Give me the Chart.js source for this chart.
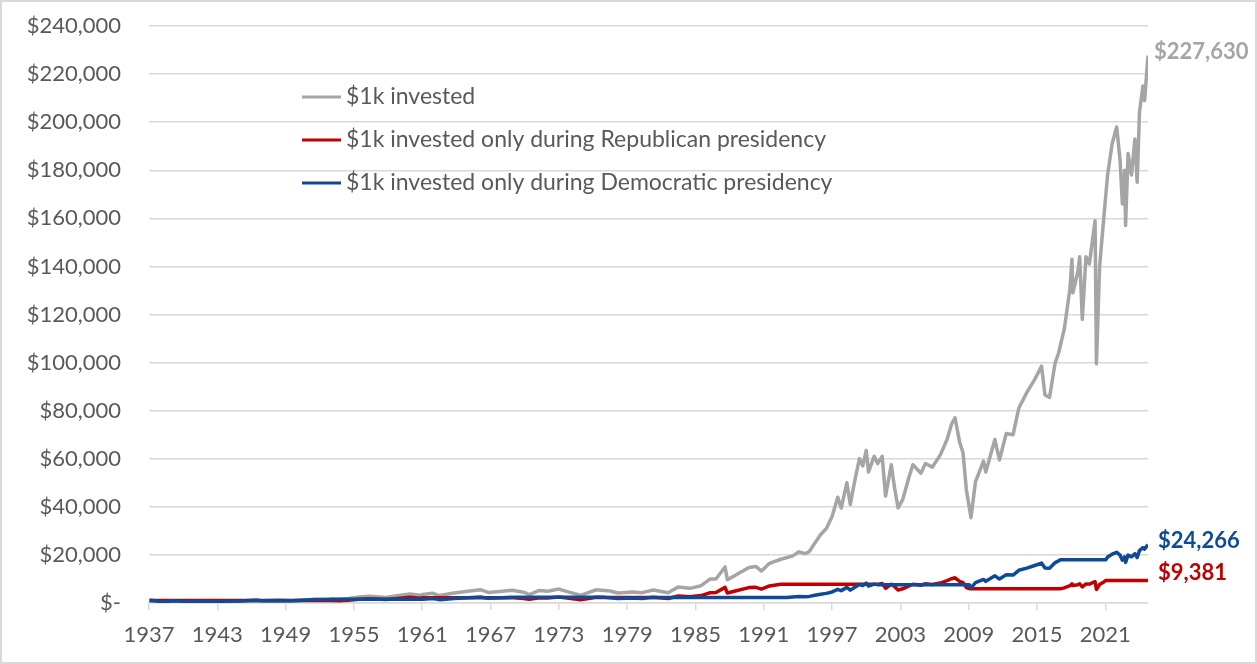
<!DOCTYPE html>
<html>
<head>
<meta charset="utf-8">
<title>$1k invested by presidency</title>
<script src="https://cdn.jsdelivr.net/npm/chart.js@4.4.1/dist/chart.umd.min.js"></script>
<style>
    html, body { margin: 0; padding: 0; background: #ffffff; }
    #wrap { width: 1257px; height: 664px; position: relative; }
</style>
</head>
<body>
<div id="wrap"><canvas id="chart" width="1257" height="664"></canvas></div>
<script>
// Tick labels on the x-axis (every 6 years)
const yearTicks = [1937, 1943, 1949, 1955, 1961, 1967, 1973, 1979, 1985, 1991, 1997, 2003, 2009, 2015, 2021]

const seriesLabels = [
    "$1k invested",
    "$1k invested only during Republican presidency",
    "$1k invested only during Democratic presidency"
]

// $1k invested the whole time (decimal years)
const allYears = [
    1937.05, 1937.2, 1937.6, 1937.9, 1938.3, 1938.9, 1939.7, 1940.4, 1941.5, 1942.3,
    1943.5, 1945.0, 1946.4, 1946.9, 1948.5, 1949.5, 1950.5, 1951.5, 1952.5, 1953.05,
    1953.7, 1954.5, 1955.5, 1956.3, 1957.8, 1958.8, 1959.9, 1960.8, 1961.05, 1961.9,
    1962.5, 1963.8, 1965.0, 1966.1, 1966.8, 1968.0, 1968.9, 1969.9, 1970.4, 1971.3,
    1972.0, 1973.0, 1973.9, 1974.9, 1976.3, 1977.5, 1978.2, 1979.5, 1980.3, 1981.3,
    1982.6, 1983.5, 1984.5, 1985.5, 1986.3, 1986.8, 1987.6, 1987.8, 1988.5, 1989.7,
    1990.3, 1990.8, 1991.5, 1992.5, 1993.5, 1994.1, 1994.6, 1995.0, 1995.5, 1996.0,
    1996.5, 1997.0, 1997.5, 1997.8, 1998.3, 1998.6, 1999.0, 1999.4, 1999.7, 2000.0,
    2000.2, 2000.7, 2001.0, 2001.4, 2001.7, 2002.2, 2002.5, 2002.8, 2003.2, 2003.8,
    2004.1, 2004.8, 2005.2, 2005.8, 2006.5, 2007.1, 2007.5, 2007.8, 2008.2, 2008.5,
    2008.8, 2009.2, 2009.6, 2010.3, 2010.5, 2011.3, 2011.7, 2012.3, 2012.9, 2013.4,
    2014.1, 2014.8, 2015.4, 2015.7, 2016.1, 2016.6, 2016.9, 2017.4, 2017.9, 2018.07,
    2018.15, 2018.6, 2018.75, 2018.98, 2019.3, 2019.6, 2020.1, 2020.22, 2020.5, 2020.9,
    2021.2, 2021.6, 2022.0, 2022.3, 2022.5, 2022.7, 2022.78, 2023.0, 2023.3, 2023.6,
    2023.8, 2024.0, 2024.3, 2024.45, 2024.75
]
const allValues = [
    1000, 1060, 950, 650, 550, 830, 830, 650, 700, 520,
    760, 850, 1130, 900, 1000, 890, 1150, 1420, 1500, 1600,
    1420, 1850, 2500, 2830, 2310, 3000, 3750, 3200, 3550, 4050,
    3100, 4150, 4900, 5550, 4400, 4850, 5300, 4500, 3500, 5200,
    4900, 5800, 4500, 3200, 5500, 5000, 4150, 4600, 4300, 5400,
    4300, 6700, 6100, 7200, 10000, 10000, 15000, 9700, 11500, 14800,
    15200, 13300, 16500, 18200, 19500, 21300, 20500, 21400, 25000, 28500,
    31000, 36000, 44000, 39500, 50000, 41000, 51000, 60000, 57000, 63500,
    54500, 61000, 58000, 61000, 44500, 57500, 47500, 39500, 43000, 53000,
    57500, 54000, 58000, 56500, 61500, 68000, 74500, 77000, 67000, 62500,
    47000, 35500, 50500, 59000, 54500, 68000, 59500, 70500, 70000, 81000,
    87500, 93000, 98500, 86500, 85500, 100000, 104000, 114000, 131000, 143000,
    129000, 138000, 144000, 118000, 144000, 141000, 159000, 99500, 140000, 162000,
    178000, 191000, 198000, 184000, 166000, 180000, 157000, 187000, 178000, 193000,
    175000, 204000, 215000, 209000, 227630
]

// $1k invested only while a Republican was president (flat otherwise)
const repYears = [
    1937.05, 1953.05, 1953.7, 1954.5, 1955.5, 1956.3, 1957.8, 1958.8, 1959.9, 1960.8,
    1961.05, 1969.05, 1969.9, 1970.4, 1971.3, 1972.0, 1973.0, 1973.9, 1974.9, 1976.3,
    1977.05, 1981.05, 1981.3, 1982.6, 1983.5, 1984.5, 1985.5, 1986.3, 1986.8, 1987.6,
    1987.8, 1988.5, 1989.7, 1990.3, 1990.8, 1991.5, 1992.5, 1993.05, 2001.05, 2001.4,
    2001.7, 2002.2, 2002.5, 2002.8, 2003.2, 2003.8, 2004.1, 2004.8, 2005.2, 2005.8,
    2006.5, 2007.1, 2007.5, 2007.8, 2008.2, 2008.5, 2008.8, 2009.05, 2017.05, 2017.4,
    2017.9, 2018.07, 2018.15, 2018.6, 2018.75, 2018.98, 2019.3, 2019.6, 2020.1, 2020.22,
    2020.5, 2020.9, 2021.05, 2024.75
]
const repValues = [
    1000, 1000, 890, 1150, 1560, 1760, 1440, 1880, 2350, 2000,
    2220, 2220, 1900, 1500, 2150, 2100, 2480, 1950, 1370, 2380,
    2270, 2270, 2370, 1870, 2900, 2640, 3100, 4300, 4380, 6500,
    4150, 5000, 6400, 6500, 5800, 7100, 7800, 7850, 7850, 8100,
    6100, 7800, 6800, 5400, 5900, 7200, 7800, 7400, 8000, 7700,
    8300, 9300, 10100, 10500, 9000, 8500, 6400, 5950, 5950, 6300,
    7200, 7950, 7250, 7600, 8000, 6650, 7950, 7850, 8850, 5600,
    7700, 8850, 9381, 9381
]

// $1k invested only while a Democrat was president (flat otherwise)
const demYears = [
    1937.05, 1937.2, 1937.6, 1937.9, 1938.3, 1938.9, 1939.7, 1940.4, 1941.5, 1942.3,
    1943.5, 1945.0, 1946.4, 1946.9, 1948.5, 1949.5, 1950.5, 1951.5, 1952.5, 1953.05,
    1961.05, 1961.9, 1962.5, 1963.8, 1965.0, 1966.1, 1966.8, 1968.0, 1968.9, 1969.05,
    1977.05, 1977.5, 1978.2, 1979.5, 1980.3, 1981.05, 1993.05, 1993.5, 1994.1, 1994.6,
    1995.0, 1995.5, 1996.0, 1996.5, 1997.0, 1997.5, 1997.8, 1998.3, 1998.6, 1999.0,
    1999.4, 1999.7, 2000.0, 2000.2, 2000.7, 2001.05, 2009.05, 2009.18, 2009.6, 2010.3,
    2010.5, 2011.3, 2011.7, 2012.3, 2012.9, 2013.4, 2014.1, 2014.8, 2015.4, 2015.7,
    2016.1, 2016.6, 2016.9, 2017.05, 2021.05, 2021.2, 2021.6, 2022.0, 2022.3, 2022.5,
    2022.7, 2022.78, 2023.0, 2023.3, 2023.6, 2023.8, 2024.0, 2024.3, 2024.45, 2024.75
]
const demValues = [
    1000, 1060, 950, 650, 550, 830, 830, 650, 700, 520,
    760, 850, 1130, 900, 1000, 890, 1150, 1420, 1500, 1600,
    1600, 1830, 1400, 1880, 2200, 2500, 1980, 2200, 2400, 2340,
    2340, 2200, 1840, 2050, 1900, 2320, 2320, 2500, 2750, 2650,
    2750, 3200, 3650, 4000, 4600, 5700, 5150, 6500, 5350, 6550,
    7700, 7300, 8250, 7050, 7850, 7550, 7550, 6200, 8500, 9800,
    9000, 11300, 10000, 11700, 11600, 13600, 14500, 15600, 16600, 14600,
    14500, 16800, 17500, 18000, 18000, 19100, 20300, 21100, 19900, 17800,
    19200, 16900, 19900, 19200, 20500, 18900, 21800, 23000, 22400, 24266
]

const textColor = "#595959"
const gridColor = "#d9d9d9"
const fontFamily = "Lato, 'Open Sans', sans-serif"

/**
 * Pairs up an array of years with an array of values for a linear x-axis
 */
function toPoints(years, values) {
    return years.map((year, i) => ({ x: year, y: values[i] }))
}

/**
 * Formats a dollar amount the way the spreadsheet does ($- for zero)
 */
function dollars(value) {
    if (value === 0) return "$-"
    return "$" + Math.round(value).toLocaleString("en-US")
}

// Light grey frame round the whole picture, white background
const framePlugin = {
    id: "frame",
    beforeDraw(chart) {
        const ctx = chart.ctx
        ctx.save()
        ctx.fillStyle = "#ffffff"
        ctx.fillRect(0, 0, chart.width, chart.height)
        ctx.strokeStyle = gridColor
        ctx.lineWidth = 2
        ctx.strokeRect(1, 1, chart.width - 2, chart.height - 2)
        ctx.restore()
    }
}

// Legend drawn inside the plot area, one row per dataset
const insideLegendPlugin = {
    id: "insideLegend",
    afterDraw(chart, args, opts) {
        const ctx = chart.ctx
        ctx.save()
        ctx.font = opts.font
        ctx.textBaseline = "middle"
        chart.data.datasets.forEach((ds, i) => {
            const y = opts.top + i * opts.rowGap
            ctx.strokeStyle = ds.borderColor
            ctx.lineWidth = 3
            ctx.beginPath()
            ctx.moveTo(opts.left, y)
            ctx.lineTo(opts.left + opts.lineLength, y)
            ctx.stroke()
            ctx.fillStyle = textColor
            ctx.fillText(ds.label, opts.left + opts.lineLength + opts.gap, y)
        })
        ctx.restore()
    }
}

// Value of the last point written to the right of each line
const endLabelPlugin = {
    id: "endLabels",
    afterDatasetsDraw(chart, args, opts) {
        const ctx = chart.ctx
        ctx.save()
        ctx.font = opts.font
        ctx.textBaseline = "middle"
        chart.data.datasets.forEach((ds, i) => {
            const meta = chart.getDatasetMeta(i)
            const last = meta.data[meta.data.length - 1]
            const value = ds.data[ds.data.length - 1].y
            ctx.fillStyle = ds.borderColor
            ctx.fillText(dollars(value), last.x + opts.dx[i], last.y + opts.dy[i])
        })
        ctx.restore()
    }
}

const config = {
    type: "line",
    data: {
        datasets: [{
            label: seriesLabels[0],
            data: toPoints(allYears, allValues),
            borderColor: "#a5a5a5",
            order: 3
        }, {
            label: seriesLabels[1],
            data: toPoints(repYears, repValues),
            borderColor: "#c00000",
            order: 2
        }, {
            label: seriesLabels[2],
            data: toPoints(demYears, demValues),
            borderColor: "#0e4a95",
            order: 1
        }]
    },
    options: {
        responsive: false,
        animation: false,
        layout: {
            padding: { top: 26, right: 109, bottom: 0, left: 0 }
        },
        elements: {
            point: { radius: 0 },
            line: { borderWidth: 3.5, tension: 0, borderJoinStyle: "round" }
        },
        scales: {
            x: {
                type: "linear",
                min: 1937,
                max: 2024.75,
                afterBuildTicks: scale => {
                    scale.ticks = yearTicks.map(v => ({ value: v }))
                },
                afterFit: scale => {
                    scale.height = 61
                    scale.paddingLeft = 0
                    scale.paddingRight = 0
                },
                grid: {
                    drawOnChartArea: false,
                    drawTicks: true,
                    tickLength: 7,
                    color: gridColor,
                    lineWidth: 1.5
                },
                border: { display: true, color: gridColor, width: 1.5 },
                ticks: {
                    autoSkip: false,
                    maxRotation: 0,
                    padding: 12,
                    color: textColor,
                    font: { family: fontFamily, size: 22 },
                    callback: value => String(value)
                }
            },
            y: {
                min: 0,
                max: 240000,
                afterFit: scale => {
                    // keep the wide label gap from pushing the plot box down
                    scale.width = 149
                    scale.paddingTop = 0
                    scale.paddingBottom = 0
                },
                grid: {
                    color: gridColor,
                    lineWidth: 1.5,
                    drawTicks: false
                },
                border: { display: false },
                ticks: {
                    stepSize: 20000,
                    padding: 28,
                    color: textColor,
                    font: { family: fontFamily, size: 22 },
                    callback: value => dollars(value)
                }
            }
        },
        plugins: {
            legend: { display: false },
            tooltip: { enabled: false },
            insideLegend: {
                left: 302,
                top: 97,
                rowGap: 43,
                lineLength: 39,
                gap: 5,
                font: "23px " + fontFamily
            },
            endLabels: {
                font: "bold 22px " + fontFamily,
                dx: [6, 10, 10],
                dy: [-4, -8, -4]
            }
        }
    },
    plugins: [framePlugin, insideLegendPlugin, endLabelPlugin]
}

const chart = new Chart(document.getElementById("chart"), config)
</script>
</body>
</html>
